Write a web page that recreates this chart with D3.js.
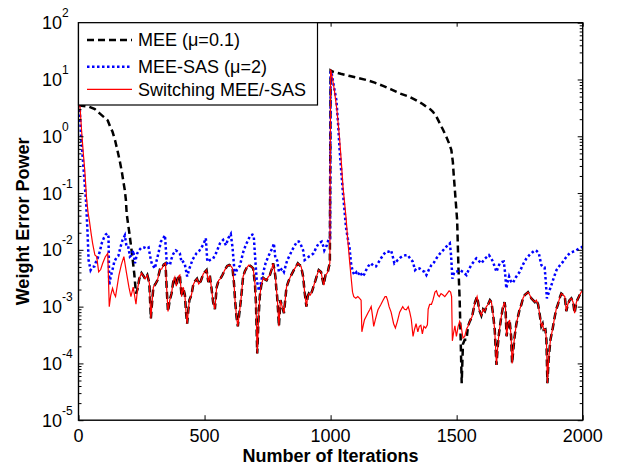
<!DOCTYPE html>
<html>
<head>
<meta charset="utf-8">
<script src="https://cdn.jsdelivr.net/npm/d3@7"></script>
<style>
  body { margin: 0; background: #fff; }
  text { font-family: "Liberation Sans", Arial, sans-serif; }
</style>
</head>
<body>
<div id="chart"></div>
<script>
// [iteration, weight error power]
const meeStart = [[0, 3.5], [20, 3.4], [43, 3.3], [65, 3.0], [85, 2.5], [105, 2.1], [116, 1.9], [125, 1.5], [135, 1.2], [145, 0.85], [155, 0.55], [163, 0.38], [171, 0.25], [178, 0.16], [184, 0.11], [188, 0.075], [191, 0.044], [196, 0.03], [202, 0.0195], [212, 0.0087], [221, 0.0039], [228, 0.0017], [234, 0.002]];

const switchStart = [[0, 3.6], [6, 3.3], [12, 1.3], [19, 0.5], [25, 0.25], [32, 0.08], [38, 0.045], [43, 0.033], [50, 0.0195], [56, 0.013], [65, 0.0081], [72, 0.0076], [80, 0.0041], [88, 0.0045], [96, 0.0058], [106, 0.0075], [116, 0.0087], [122, 0.001], [128, 0.0016], [135, 0.0021], [141, 0.0017], [147, 0.0015], [160, 0.0035], [170, 0.0055], [180, 0.0076], [190, 0.004], [200, 0.0022], [208, 0.0015], [217, 0.0022], [228, 0.0011], [234, 0.002]];

// MEE and switching curves coincide here
const commonA = [[241, 0.0031], [250, 0.0039], [257, 0.0035], [264, 0.0031], [273, 0.0036], [281, 0.0026], [287, 0.00062], [292, 0.0012], [297, 0.0022], [305, 0.0025], [313, 0.0029], [323, 0.0045], [330, 0.0046], [338, 0.0055], [345, 0.0058], [350, 0.002], [355, 0.00082], [362, 0.0013], [369, 0.0017], [376, 0.0028], [382, 0.0033], [388, 0.0023], [396, 0.0034], [402, 0.0036], [409, 0.0015], [415, 0.0022], [422, 0.0016], [427, 0.00075], [431, 0.0005], [436, 0.0009], [440, 0.0013], [448, 0.0016], [455, 0.0024], [462, 0.0028], [470, 0.0031], [477, 0.0025], [485, 0.0028], [495, 0.0038], [508, 0.0044], [515, 0.0027], [521, 0.0035], [527, 0.0022], [534, 0.0012], [541, 0.0009], [548, 0.0022], [556, 0.0029], [563, 0.0031], [571, 0.0036], [580, 0.0044], [590, 0.0052], [598, 0.0054], [604, 0.0052], [611, 0.0047], [617, 0.0025], [621, 0.0013], [627, 0.00065], [632, 0.00045], [637, 0.0007], [645, 0.0014], [653, 0.0034], [660, 0.0042], [667, 0.0048], [676, 0.0054], [685, 0.0051], [693, 0.0047], [700, 0.0025], [704, 0.0011], [709, 0.00015], [714, 0.0006], [719, 0.0015], [725, 0.0024], [733, 0.0032], [740, 0.003], [746, 0.0029], [752, 0.0033], [759, 0.0036], [766, 0.0045], [772, 0.0058], [777, 0.0045], [781, 0.0034], [785, 0.002], [788, 0.0015], [792, 0.0008], [795, 0.00045], [801, 0.0013], [808, 0.001], [815, 0.00077], [820, 0.0013], [825, 0.0022], [833, 0.0028], [841, 0.0034], [848, 0.0039], [854, 0.0044], [862, 0.005], [870, 0.0058], [877, 0.0054], [883, 0.0051], [891, 0.0034], [897, 0.0018], [904, 0.001], [909, 0.0015], [914, 0.0017], [920, 0.0016], [927, 0.0019], [934, 0.0024], [940, 0.0029], [947, 0.0037], [953, 0.0044], [962, 0.0041], [968, 0.003], [973, 0.0024], [977, 0.0031], [980, 0.0036], [985, 0.0038], [989, 0.0041], [993, 0.005], [997, 0.0058]];

const meeAfter = [[1000, 14.5], [1010, 13.7], [1040, 12.6], [1076, 11.5], [1110, 10.6], [1142, 9.8], [1175, 8.8], [1208, 7.7], [1240, 6.7], [1274, 5.7], [1310, 5.0], [1340, 4.3], [1365, 3.7], [1380, 3.3], [1395, 3.0], [1406, 2.7], [1420, 2.2], [1433, 1.69], [1446, 1.3], [1459, 0.98], [1470, 0.75], [1479, 0.57], [1485, 0.35], [1488, 0.22], [1492, 0.13], [1496, 0.075], [1502, 0.033], [1507, 0.005], [1512, 0.0013], [1516, 0.00026], [1520, 0.000045], [1525, 0.00022], [1532, 0.00026], [1539, 0.00026]];

const switchAfter = [[1000, 15], [1008, 10], [1015, 6.5], [1025, 2.9], [1035, 0.98], [1042, 0.38], [1049, 0.13], [1055, 0.07], [1061, 0.038], [1068, 0.015], [1075, 0.0066], [1081, 0.0034], [1087, 0.0018], [1092, 0.0015], [1100, 0.0014], [1108, 0.0015], [1115, 0.0014], [1121, 0.0013], [1124, 0.00036], [1134, 0.00058], [1148, 0.00077], [1155, 0.00088], [1161, 0.001], [1166, 0.0007], [1171, 0.00045], [1178, 0.0006], [1188, 0.00088], [1200, 0.0011], [1208, 0.0013], [1216, 0.0015], [1221, 0.0015], [1226, 0.0013], [1232, 0.001], [1240, 0.0008], [1250, 0.0005], [1257, 0.00042], [1265, 0.00055], [1274, 0.0008], [1286, 0.001], [1293, 0.0009], [1300, 0.00088], [1308, 0.001], [1314, 0.0008], [1320, 0.0006], [1327, 0.0003], [1333, 0.0004], [1339, 0.0005], [1346, 0.00036], [1352, 0.00045], [1358, 0.00047], [1364, 0.00033], [1370, 0.00045], [1377, 0.00042], [1384, 0.00048], [1387, 0.0009], [1393, 0.0011], [1400, 0.0011], [1406, 0.0013], [1414, 0.0018], [1420, 0.0019], [1425, 0.0016], [1431, 0.0015], [1438, 0.0017], [1446, 0.0016], [1453, 0.0015], [1462, 0.0017], [1470, 0.0019], [1476, 0.0018], [1480, 0.0015], [1483, 0.00025], [1488, 0.00035], [1493, 0.00046], [1499, 0.0003], [1506, 0.00045], [1512, 0.00055], [1518, 0.00045], [1525, 0.00028], [1532, 0.0003], [1539, 0.0004]];

const commonB = [[1545, 0.00045], [1552, 0.00055], [1561, 0.00066], [1567, 0.0009], [1573, 0.0012], [1581, 0.0015], [1585, 0.0012], [1589, 0.00089], [1598, 0.0007], [1605, 0.0009], [1612, 0.00083], [1618, 0.001], [1625, 0.0011], [1632, 0.0013], [1638, 0.0012], [1645, 0.0007], [1651, 0.00039], [1658, 0.000094], [1663, 0.0002], [1668, 0.00034], [1677, 0.00066], [1684, 0.001], [1690, 0.0012], [1694, 0.0009], [1698, 0.0003], [1704, 0.0005], [1710, 0.00058], [1716, 0.0003], [1720, 0.0001], [1726, 0.0002], [1730, 0.0003], [1737, 0.0005], [1743, 0.00066], [1750, 0.0009], [1757, 0.0011], [1763, 0.0014], [1770, 0.0016], [1777, 0.0017], [1783, 0.0018], [1790, 0.0016], [1796, 0.0014], [1803, 0.0013], [1810, 0.0012], [1816, 0.0013], [1823, 0.0011], [1830, 0.0007], [1836, 0.00045], [1841, 0.0005], [1845, 0.00039], [1852, 0.0004], [1856, 0.00026], [1860, 0.000045], [1865, 0.00012], [1872, 0.00026], [1880, 0.00039], [1889, 0.00066], [1895, 0.0009], [1902, 0.0011], [1908, 0.0014], [1915, 0.0017], [1922, 0.0016], [1929, 0.0015], [1935, 0.00083], [1941, 0.0011], [1948, 0.0013], [1955, 0.0014], [1962, 0.0012], [1968, 0.00077], [1975, 0.0012], [1982, 0.0014], [1988, 0.0016], [1994, 0.0018], [2000, 0.0019]];

const sasCurve = [[0, 3.6], [5, 3.0], [10, 1.0], [17, 0.4], [23, 0.18], [30, 0.07], [36, 0.0195], [40, 0.0066], [48, 0.0044], [55, 0.005], [63, 0.0051], [72, 0.0066], [76, 0.0071], [85, 0.0095], [92, 0.013], [100, 0.016], [108, 0.0185], [114, 0.0195], [119, 0.017], [122, 0.0024], [128, 0.0034], [138, 0.0051], [142, 0.0062], [150, 0.0072], [158, 0.0078], [166, 0.011], [175, 0.015], [184, 0.018], [191, 0.011], [198, 0.011], [204, 0.0076], [210, 0.008], [217, 0.0098], [224, 0.0058], [232, 0.0085], [240, 0.0098], [250, 0.011], [261, 0.011], [270, 0.0105], [278, 0.011], [287, 0.0066], [292, 0.0055], [303, 0.0047], [310, 0.0065], [317, 0.0087], [327, 0.014], [336, 0.016], [343, 0.018], [350, 0.006], [356, 0.0055], [363, 0.0055], [369, 0.007], [376, 0.0085], [386, 0.0098], [396, 0.0092], [402, 0.0087], [409, 0.006], [415, 0.0062], [422, 0.0055], [431, 0.0034], [440, 0.0047], [453, 0.0068], [468, 0.0087], [478, 0.0095], [488, 0.011], [497, 0.013], [505, 0.016], [511, 0.0062], [521, 0.0066], [534, 0.007], [547, 0.009], [561, 0.013], [574, 0.015], [585, 0.012], [594, 0.016], [604, 0.019], [611, 0.011], [620, 0.0036], [629, 0.0045], [640, 0.0052], [653, 0.009], [663, 0.012], [673, 0.015], [682, 0.018], [690, 0.0185], [695, 0.018], [700, 0.0081], [707, 0.0029], [716, 0.0019], [729, 0.0034], [742, 0.0058], [752, 0.0075], [762, 0.0093], [770, 0.011], [775, 0.013], [781, 0.0071], [788, 0.0065], [795, 0.0041], [808, 0.0047], [815, 0.0041], [828, 0.0066], [838, 0.008], [847, 0.0098], [858, 0.012], [867, 0.014], [874, 0.014], [880, 0.013], [891, 0.0098], [897, 0.0066], [905, 0.007], [914, 0.0076], [923, 0.008], [933, 0.0087], [943, 0.011], [953, 0.013], [965, 0.014], [970, 0.012], [975, 0.0098], [985, 0.012], [993, 0.016], [998, 0.016],
  [1000, 14], [1004, 13], [1012, 8], [1023, 4.3], [1030, 1.6], [1035, 0.65], [1042, 0.25], [1049, 0.1], [1055, 0.05], [1061, 0.025], [1068, 0.016], [1075, 0.011], [1081, 0.0058], [1088, 0.0041], [1095, 0.0036], [1102, 0.004], [1108, 0.0036], [1117, 0.0041], [1127, 0.0034], [1135, 0.0038], [1141, 0.0044], [1150, 0.0052], [1160, 0.0058], [1170, 0.0052], [1180, 0.0051], [1190, 0.006], [1200, 0.0071], [1210, 0.0083], [1220, 0.0093], [1230, 0.0093], [1240, 0.0098], [1247, 0.0075], [1253, 0.0058], [1260, 0.0062], [1266, 0.0066], [1275, 0.0072], [1286, 0.0078], [1296, 0.008], [1306, 0.0081], [1316, 0.007], [1326, 0.0062], [1335, 0.0044], [1343, 0.0048], [1353, 0.0047], [1363, 0.0043], [1373, 0.0041], [1380, 0.0036], [1390, 0.0045], [1400, 0.0054], [1410, 0.006], [1420, 0.0071], [1433, 0.0085], [1446, 0.0098], [1460, 0.0115], [1473, 0.013], [1478, 0.008], [1483, 0.0031], [1490, 0.004], [1499, 0.0041], [1512, 0.0044], [1525, 0.0041], [1539, 0.0036], [1548, 0.0045], [1558, 0.0054], [1568, 0.0062], [1578, 0.0071], [1588, 0.0064], [1598, 0.0058], [1612, 0.007], [1628, 0.0081], [1636, 0.0072], [1644, 0.0062], [1651, 0.005], [1658, 0.0041], [1665, 0.005], [1671, 0.0058], [1680, 0.0061], [1687, 0.0062], [1692, 0.004], [1697, 0.0021], [1703, 0.0028], [1708, 0.0034], [1715, 0.0028], [1723, 0.0026], [1735, 0.0033], [1750, 0.0041], [1763, 0.0055], [1777, 0.0071], [1790, 0.0082], [1800, 0.009], [1810, 0.0098], [1818, 0.0095], [1826, 0.0087], [1832, 0.0065], [1836, 0.0054], [1842, 0.005], [1849, 0.0049], [1853, 0.003], [1858, 0.0014], [1866, 0.0018], [1876, 0.0024], [1886, 0.0033], [1896, 0.0044], [1909, 0.0053], [1922, 0.0062], [1935, 0.0075], [1948, 0.0087], [1960, 0.0092], [1974, 0.0098], [1985, 0.0105], [1994, 0.011], [2000, 0.0115]];

const xTicks = [0, 500, 1000, 1500, 2000];
const yExponents = [-5, -4, -3, -2, -1, 0, 1, 2];
const legendLabels = ["MEE (\u03bc=0.1)", "MEE-SAS (\u03bc=2)", "Switching MEE/-SAS"];

const meeCurve = meeStart.concat(commonA, meeAfter, commonB);
const switchCurve = switchStart.concat(commonA, switchAfter, commonB);

const svg = d3.select("#chart").append("svg").attr("width", 619).attr("height", 471);
const plotLeft = 78.5, plotRight = 582.7, plotTop = 22.7, plotBottom = 420.2;

const x = d3.scaleLinear().domain([0, 2000]).range([plotLeft, plotRight]);
const y = d3.scaleLog().domain([1e-5, 1e2]).range([plotBottom, plotTop]);

const line = d3.line().x(d => x(d[0])).y(d => y(d[1]));

svg.append("clipPath").attr("id", "clip")
  .append("rect").attr("x", plotLeft).attr("y", plotTop)
  .attr("width", plotRight - plotLeft).attr("height", plotBottom - plotTop);

const plot = svg.append("g").attr("clip-path", "url(#clip)");

plot.append("path").datum(meeCurve).attr("d", line)
  .attr("fill", "none").attr("stroke", "#000").attr("stroke-width", 2.5).attr("stroke-dasharray", "7,4");
plot.append("path").datum(sasCurve).attr("d", line)
  .attr("fill", "none").attr("stroke", "#0000ff").attr("stroke-width", 2.5).attr("stroke-dasharray", "2.5,2.5");
plot.append("path").datum(switchCurve).attr("d", line)
  .attr("fill", "none").attr("stroke", "#ff0000").attr("stroke-width", 1.2);

// minor log ticks
let minors = [];
yExponents.slice(0, -1).forEach(e => {
  for (let k = 2; k <= 9; k++) minors.push(k * Math.pow(10, e));
});
const majors = yExponents.map(e => Math.pow(10, e));

svg.append("g").attr("transform", `translate(0,${plotBottom})`)
  .call(d3.axisBottom(x).tickValues(xTicks).tickSizeInner(-5).tickSizeOuter(0).tickFormat(""));
svg.append("g").attr("transform", `translate(0,${plotTop})`)
  .call(d3.axisTop(x).tickValues(xTicks).tickSizeInner(-4).tickSizeOuter(0).tickFormat(""));
svg.append("g").attr("transform", `translate(${plotLeft},0)`)
  .call(d3.axisLeft(y).tickValues(majors).tickSizeInner(-5).tickSizeOuter(0).tickFormat(""));
svg.append("g").attr("transform", `translate(${plotLeft},0)`)
  .call(d3.axisLeft(y).tickValues(minors).tickSizeInner(-3).tickSizeOuter(0).tickFormat(""));
svg.append("g").attr("transform", `translate(${plotRight},0)`)
  .call(d3.axisRight(y).tickValues(majors).tickSizeInner(-5).tickSizeOuter(0).tickFormat(""));
svg.append("g").attr("transform", `translate(${plotRight},0)`)
  .call(d3.axisRight(y).tickValues(minors).tickSizeInner(-3).tickSizeOuter(0).tickFormat(""));
svg.selectAll(".domain").remove();
svg.selectAll(".tick line").attr("stroke", "#000").attr("stroke-width", 1);

svg.append("rect").attr("x", plotLeft).attr("y", plotTop)
  .attr("width", plotRight - plotLeft).attr("height", plotBottom - plotTop)
  .attr("fill", "none").attr("stroke", "#000").attr("stroke-width", 1.4);

// tick labels
svg.append("g").selectAll("text").data(xTicks).join("text")
  .attr("x", d => x(d)).attr("y", 441.5).attr("text-anchor", "middle")
  .attr("font-size", 18).text(d => d);

const yLabels = svg.append("g").selectAll("text").data(yExponents).join("text")
  .attr("x", 42).attr("y", d => y(Math.pow(10, d)) + 6.5).attr("font-size", 18);
yLabels.append("tspan").text("10");
yLabels.append("tspan").attr("dy", -12).attr("font-size", 12).text(d => d);

// axis titles
svg.append("text").attr("x", (plotLeft + plotRight) / 2).attr("y", 461.5).attr("text-anchor", "middle")
  .attr("font-size", 18).attr("font-weight", "bold").text("Number of Iterations");
svg.append("text").attr("transform", `translate(28.5,${(plotTop + plotBottom) / 2}) rotate(-90)`)
  .attr("text-anchor", "middle").attr("font-size", 18).attr("font-weight", "bold").text("Weight Error Power");

// legend
const legend = svg.append("g");
legend.append("rect").attr("x", plotLeft).attr("y", plotTop).attr("width", 239).attr("height", 82.3)
  .attr("fill", "#fff").attr("stroke", "#000").attr("stroke-width", 1.2);
const rowY = [40, 66.7, 89.3];
const styles = [
  { stroke: "#000", width: 2.5, dash: "7,4" },
  { stroke: "#0000ff", width: 2.5, dash: "2.5,2.5" },
  { stroke: "#ff0000", width: 1.2, dash: null }
];
legendLabels.forEach((label, i) => {
  legend.append("line").attr("x1", 87).attr("x2", 132).attr("y1", rowY[i]).attr("y2", rowY[i])
    .attr("stroke", styles[i].stroke).attr("stroke-width", styles[i].width)
    .attr("stroke-dasharray", styles[i].dash);
  legend.append("text").attr("x", 138).attr("y", rowY[i] + 6.3).attr("font-size", 18).text(label);
});
</script>
</body>
</html>
